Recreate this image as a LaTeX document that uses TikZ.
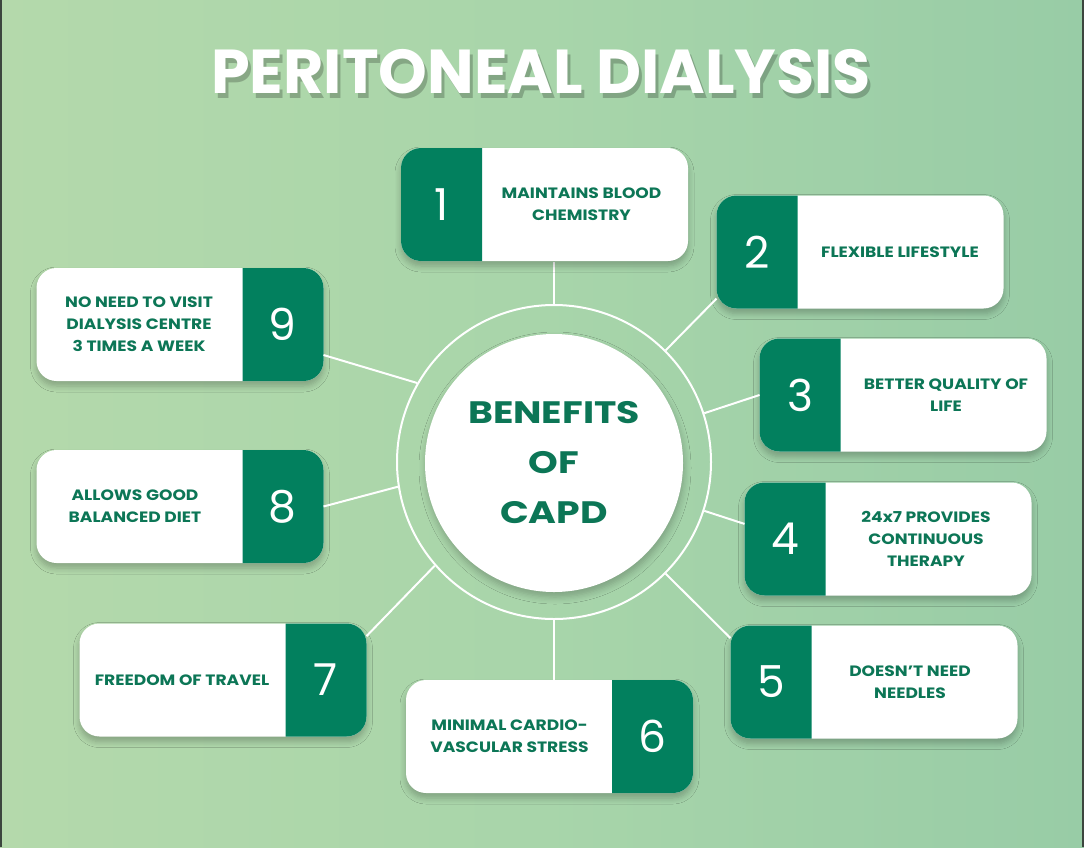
\documentclass[tikz,border=0pt]{standalone}
\usepackage{fontspec}
\setmainfont{Poppins}
\newfontfamily\widefont{Poppins}[FakeStretch=1.22]
\newfontfamily\lblfont{Poppins}[FakeStretch=1.14]
\usetikzlibrary{calc,shadows.blur}
\definecolor{panel}{RGB}{2,128,94}
\definecolor{txtgreen}{RGB}{12,118,86}
\definecolor{bgL}{RGB}{180,217,171}
\definecolor{bgM}{RGB}{168,213,170}
\definecolor{bgR}{RGB}{152,204,166}
\definecolor{edge}{RGB}{60,70,62}
\tikzset{
  card/.style={rectangle, rounded corners=20pt, fill=white, outer sep=0pt,
    minimum width=287pt, minimum height=113pt,
    blur shadow={shadow xshift=0pt, shadow yshift=-5pt, shadow blur steps=6, shadow opacity=25, shadow blur radius=6pt}},
  numtxt/.style={text=white, font=\fontsize{44}{44}\selectfont},
  lbl/.style={text=txtgreen, align=center, font=\lblfont\bfseries\fontsize{15}{22}\selectfont},
  conn/.style={draw=white, line width=2pt},
  titlefont/.style={font=\bfseries\fontsize{62}{62}\selectfont},
}
% dark panel on left
\newcommand\benL[6]{%
  \node[card] (#1) at (#2,#3) {};
  \begin{scope}
    \clip (#1.north west) rectangle ([xshift=81pt]#1.south west);
    \fill[panel, rounded corners=20pt] (#1.north west) rectangle (#1.south east);
  \end{scope}
  \node[numtxt] (#1n) at ([xshift=41pt]#1.west) {#4};
  \node[lbl] (#1t) at ([xshift=#6pt]#1.center) {#5};
}
% dark panel on right
\newcommand\benR[6]{%
  \node[card] (#1) at (#2,#3) {};
  \begin{scope}
    \clip (#1.north east) rectangle ([xshift=-81pt]#1.south east);
    \fill[panel, rounded corners=20pt] (#1.north west) rectangle (#1.south east);
  \end{scope}
  \node[numtxt] (#1n) at ([xshift=-41pt]#1.east) {#4};
  \node[lbl] (#1t) at ([xshift=#6pt]#1.center) {#5};
}
\begin{document}
\begin{tikzpicture}[x=1pt,y=-1pt]
\shade[left color=bgL, right color=bgR, middle color=bgM] (0,0) rectangle (1084,847);
\useasboundingbox (0,0) rectangle (1084,847);
\draw[edge, line width=1.6pt] (0.8,0) -- (0.8,847);
\draw[edge, line width=1.6pt] (1083.2,0) -- (1083.2,847);

% title with its drop shadow
\node[titlefont, text=black, opacity=0.22] (titsh) at (544,77) {PERITONEAL DIALYSIS};
\node[titlefont, text=white] (title) at (541,72) {PERITONEAL DIALYSIS};

% centre
\node[circle, draw=white, line width=2pt, minimum size=314pt, inner sep=0pt] (ring) at (554,462) {};
\node[circle, fill=white, minimum size=258pt, inner sep=0pt,
  blur shadow={shadow xshift=1pt, shadow yshift=-5pt, shadow blur steps=6, shadow opacity=25, shadow blur radius=7pt},
  text=txtgreen, align=center, font=\widefont\bfseries\fontsize{31}{50}\selectfont] (hub) at (554,463) {BENEFITS\\OF\\CAPD};

% vertical connectors (drawn under the cards)
\coordinate (c1) at (554,262);
\coordinate (c6) at (554,680);
\draw[conn] (ring.90) -- (c1);
\draw[conn] (ring.270) -- (c6);

% cards
\benL{b1}{544.5}{204.5}{1}{MAINTAINS BLOOD\\CHEMISTRY}{37}
\benL{b2}{860}{252}{2}{FLEXIBLE LIFESTYLE}{40}
\benL{b3}{903}{395}{3}{BETTER QUALITY OF\\LIFE}{43}
\benL{b4}{888}{539}{4}{24x7 PROVIDES\\CONTINUOUS\\THERAPY}{38}
\benL{b5}{874}{682}{5}{DOESN’T NEED\\NEEDLES}{36}
\benR{b6}{549.5}{736.5}{6}{MINIMAL CARDIO-\\VASCULAR STRESS}{-40}
\benR{b7}{223}{680}{7}{FREEDOM OF TRAVEL}{-41}
\benR{b8}{180}{506.5}{8}{ALLOWS GOOD\\BALANCED DIET}{-45}
\benR{b9}{180}{324.5}{9}{NO NEED TO VISIT\\DIALYSIS CENTRE\\3 TIMES A WEEK}{-41}

% connectors to the side cards
\draw[conn] (ring.45) -- (b2.198);
\draw[conn] (ring.18) -- (b3.west);
\draw[conn] (ring.-18) -- (b4.174);
\draw[conn] (ring.-45) -- (b5.163);
\draw[conn] (ring.221) -- (b7.17.6);
\draw[conn] (ring.189) -- (b8.east);
\draw[conn] (ring.150) -- (b9.-12.4);
\end{tikzpicture}
\end{document}
